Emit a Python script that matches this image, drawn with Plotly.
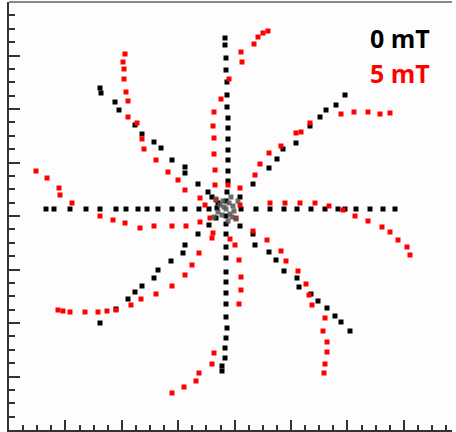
import plotly.graph_objects as go

# Cell track displacements (x, y) from the common start point.
# 0 mT tracks: eight nearly straight radial paths
b_up_x = [-1, -1, 0, 0, 1, 1, 1, 2, 2, 2, 2, 2, 2, 2, 1, 0]
b_up_y = [171, 164, 151, 139, 127, 114, 102, 91, 81, 70, 59, 49, 38, 28, 17, 8]
b_ul_x = [-126, -125, -111, -107, -91, -84, -72, -65, -54, -41, -41, -28, -18, -14, -8]
b_ul_y = [121, 116, 107, 99, 84, 75, 67, 61, 49, 42, 36, 25, 17, 12, 6]
b_l_x = [-180, -172, -156, -140, -126, -110, -100, -88, -79, -68, -54, -41, -27, -17, -9]
b_l_y = [0, 0, 0, 0, 0, 0, 0, 0, 0, 0, 0, 0, 0, 0, 1]
b_ll_x = [-126, -110, -98, -91, -84, -72, -68, -55, -43, -41, -28, -17, -10]
b_ll_y = [-114, -100, -90, -83, -77, -69, -61, -52, -44, -36, -25, -16, -9]
b_d_x = [0, 0, 0, 0, 0, 0, 0, 0, 0, 0, 1, 0, -1, -1, -4, -4]
b_d_y = [-7, -15, -25, -38, -49, -63, -73, -84, -95, -108, -119, -129, -139, -149, -157, -162]
b_lr_x = [14, 27, 29, 43, 50, 58, 71, 73, 85, 92, 101, 109, 115, 124]
b_lr_y = [-17, -25, -36, -43, -51, -62, -69, -78, -85, -92, -99, -107, -113, -122]
b_r_x = [15, 30, 44, 58, 71, 85, 99, 112, 119, 130, 144, 157, 169]
b_r_y = [0, 0, 0, 0, 0, 0, 0, 0, 0, 0, 0, 0, 0]
b_ur_x = [119, 110, 100, 94, 84, 70, 57, 51, 43, 27, 14]
b_ur_y = [114, 104, 99, 92, 83, 66, 60, 50, 41, 25, 12]
# dense early positions around the start point
b_c_x = [-6, -3, 3, 7, -8, -4, 4, 8, 0, -10, 10, 5, -12, 2, 12, -2, 6]
b_c_y = [4, 8, 6, 3, -3, -6, -5, -2, 0, 10, -10, 12, -8, -12, 8, 2, -8]

# 5 mT tracks: eight arms curving clockwise
r_a_x = [-10, -11, -11, -12, -12, -13, -12, -5, 3, 16, 15, 28, 32, 37, 42]
r_a_y = [9, 24, 39, 55, 71, 83, 97, 110, 130, 147, 157, 165, 172, 176, 178]
r_b_x = [-21, -26, -41, -48, -58, -70, -82, -84, -89, -98, -98, -100, -102, -102, -103, -101]
r_b_y = [4, 11, 19, 29, 37, 49, 60, 70, 86, 92, 108, 117, 130, 140, 147, 155]
r_c_x = [-16, -26, -40, -54, -72, -86, -101, -113, -126, -154, -166, -167, -179, -190]
r_c_y = [-9, -13, -17, -17, -17, -19, -14, -11, -7, 6, 14, 21, 31, 38]
r_d_x = [-13, -14, -27, -34, -41, -54, -70, -85, -95, -110, -119, -128, -141, -156, -163, -168]
r_d_y = [-24, -29, -44, -56, -66, -77, -85, -90, -96, -101, -102, -103, -103, -103, -102, -101]
r_e_x = [4, 9, 13, 15, 15, 13, -12, -14, -27, -30, -42, -54]
r_e_y = [-30, -36, -51, -68, -81, -95, -144, -155, -164, -172, -178, -184]
r_f_x = [10, 27, 41, 55, 60, 72, 80, 83, 86, 99, 97, 101, 101, 99, 98]
r_f_y = [-9, -22, -31, -42, -52, -62, -75, -86, -96, -109, -122, -133, -143, -155, -164]
r_g_x = [14, 44, 59, 74, 89, 103, 117, 129, 142, 156, 164, 172, 181, 184]
r_g_y = [4, 6, 6, 6, 6, 3, -1, -7, -12, -18, -23, -31, -38, -46]
r_h_x = [2, 14, 29, 34, 43, 55, 70, 75, 84, 115, 128, 142, 154, 164]
r_h_y = [24, 21, 34, 45, 56, 63, 76, 77, 86, 95, 97, 97, 95, 96]

legend_labels = ["0 mT", "5 mT"]
colors = ["#000000", "#ff0000"]

black_tracks = [(b_up_x, b_up_y), (b_ul_x, b_ul_y), (b_l_x, b_l_y), (b_ll_x, b_ll_y),
                (b_d_x, b_d_y), (b_lr_x, b_lr_y), (b_r_x, b_r_y), (b_ur_x, b_ur_y)]
red_tracks = [(r_a_x, r_a_y), (r_b_x, r_b_y), (r_c_x, r_c_y), (r_d_x, r_d_y),
              (r_e_x, r_e_y), (r_f_x, r_f_y), (r_g_x, r_g_y), (r_h_x, r_h_y)]

fig = go.Figure()

marker_black = dict(symbol="square", size=5, color=colors[0], line=dict(width=0))
marker_red = dict(symbol="square", size=5, color=colors[1], line=dict(width=0))

for tx, ty in black_tracks:
    fig.add_trace(go.Scatter(x=tx, y=ty, mode="markers", marker=marker_black,
                             showlegend=False, hoverinfo="skip"))
for tx, ty in red_tracks:
    fig.add_trace(go.Scatter(x=tx, y=ty, mode="markers", marker=marker_red,
                             showlegend=False, hoverinfo="skip"))
fig.add_trace(go.Scatter(x=b_c_x, y=b_c_y, mode="markers",
                         marker=dict(symbol="square", size=5, color="#555555",
                                     opacity=0.85, line=dict(width=0)),
                         showlegend=False, hoverinfo="skip"))

axis_color = "#333333"
fig.update_xaxes(
    range=[-217, 226], showticklabels=False, showgrid=False, zeroline=False,
    showline=True, linecolor=axis_color, linewidth=2,
    ticks="inside", tick0=-217, dtick=56.4, ticklen=10, tickwidth=2, tickcolor=axis_color,
    minor=dict(ticks="inside", tick0=-217, dtick=14.1, ticklen=5, tickwidth=2,
               tickcolor=axis_color, showgrid=False),
)
fig.update_yaxes(
    range=[-221, 207], showticklabels=False, showgrid=False, zeroline=False,
    showline=True, linecolor=axis_color, linewidth=2,
    ticks="inside", tick0=-221, dtick=53.5, ticklen=11, tickwidth=2, tickcolor=axis_color,
    minor=dict(ticks="inside", tick0=-221, dtick=13.375, ticklen=6, tickwidth=2,
               tickcolor=axis_color, showgrid=False),
)

# thin grey frame line along the top
fig.add_shape(type="line", xref="paper", yref="paper", x0=0, x1=1, y0=1, y1=1,
              line=dict(color="#888888", width=2))

for i, (label, col) in enumerate(zip(legend_labels, colors)):
    fig.add_annotation(text=label, xref="paper", yref="paper",
                       x=0.81, y=0.916 - i * 0.082, xanchor="left", yanchor="middle",
                       showarrow=False,
                       font=dict(family="Open Sans", size=25, color=col, weight="bold"))

fig.update_layout(
    width=456, height=432,
    margin=dict(l=9, r=4, t=2, b=2, autoexpand=False),
    paper_bgcolor="white", plot_bgcolor="#fdfdfd",
    showlegend=False,
)

fig.write_html("out.html")
